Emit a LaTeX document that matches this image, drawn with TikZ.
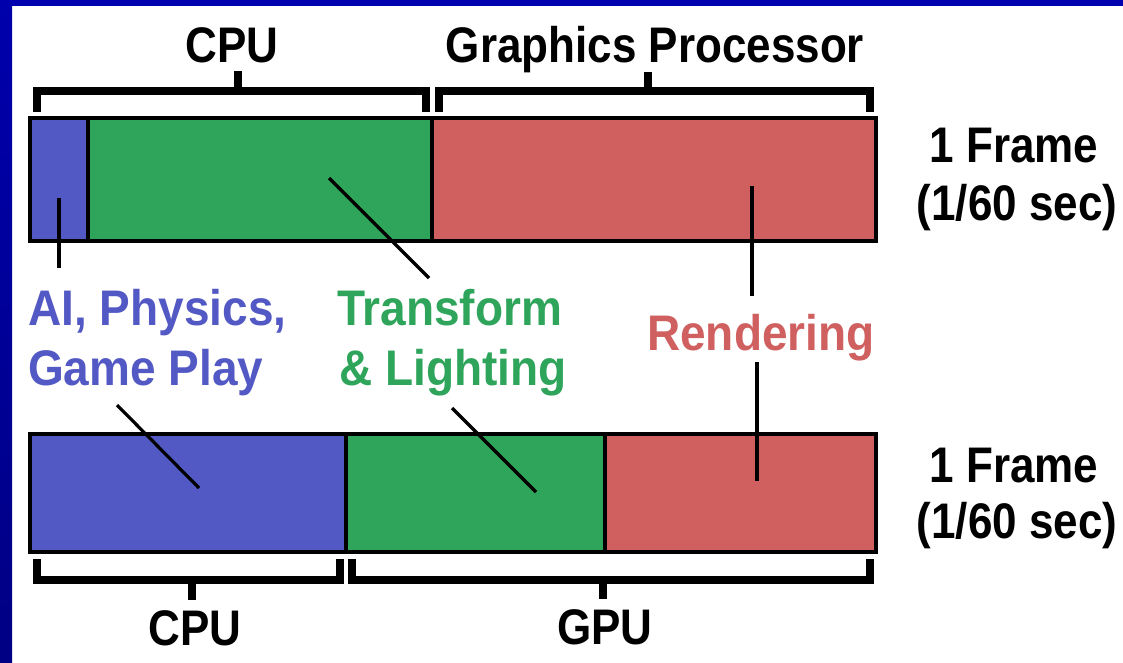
\documentclass[tikz,border=0pt]{standalone}
\usepackage{fontspec}
\newfontfamily\pixfont{Liberation Sans}[FakeStretch=0.88]
\newfontfamily\pixwide{Liberation Sans}[FakeStretch=0.92]
\definecolor{segblue}{RGB}{83,89,196}
\definecolor{seggreen}{RGB}{46,165,91}
\definecolor{segred}{RGB}{208,96,96}
\definecolor{frametop}{RGB}{0,0,176}
\definecolor{frameleftA}{RGB}{0,0,172}
\definecolor{frameleftB}{RGB}{0,0,132}
\tikzset{
  seg/.style={draw=black, line width=4pt, inner sep=0pt, outer sep=0pt},
  bracket/.style={draw=black, line width=8pt, line cap=butt, line join=miter},
  lead/.style={draw=black, line width=4pt, line cap=butt},
  diag/.style={draw=black, line width=3.2pt, line cap=butt},
  lbl/.style={inner sep=0pt, anchor=base, font=\pixfont\bfseries\fontsize{50}{60}\selectfont},
  clbl/.style={inner sep=0pt, anchor=base west, font=\pixwide\bfseries\fontsize{50}{60}\selectfont}
}
\begin{document}
\begin{tikzpicture}[x=1pt, y=-1pt]
\useasboundingbox (0,0) rectangle (1123,662);
\fill[white] (0,0) rectangle (1123,662);
% frame
\fill[frametop] (0,0) rectangle (1123,6);
\shade[top color=frameleftA, bottom color=frameleftB] (0,0) rectangle (12,662);

% top bar
\node[seg, fill=segblue,  minimum width=58pt,  minimum height=123pt] (tblue)  at (59,179.5) {};
\node[seg, fill=seggreen, minimum width=344pt, minimum height=123pt] (tgreen) at (260,179.5) {};
\node[seg, fill=segred,   minimum width=444pt, minimum height=123pt] (tred)   at (654,179.5) {};

% bottom bar
\node[seg, fill=segblue,  minimum width=316pt, minimum height=118pt] (bblue)  at (188,493) {};
\node[seg, fill=seggreen, minimum width=259pt, minimum height=118pt] (bgreen) at (475.5,493) {};
\node[seg, fill=segred,   minimum width=271pt, minimum height=118pt] (bred)   at (740.5,493) {};

% top brackets
\draw[bracket] (37,112) -- (37,91) -- (426,91) -- (426,112);
\draw[bracket] (238,91) -- (238,71);
\draw[bracket] (439,112) -- (439,91) -- (870,91) -- (870,112);
\draw[bracket] (648,91) -- (648,72);

% bottom brackets
\draw[bracket] (37,559) -- (37,579.5) -- (340,579.5) -- (340,559);
\draw[bracket] (192,579.5) -- (192,600);
\draw[bracket] (352,559) -- (352,579.5) -- (870,579.5) -- (870,559);
\draw[bracket] (603,579.5) -- (603,599);

% bracket labels
\node[lbl] (cputop) at (232,62) {CPU};
\node[lbl] (gfx) at (655,62) {Graphics Processor};
\node[lbl] (cpubot) at (195,645) {CPU};
\node[lbl] (gpubot) at (605,644) {GPU};

% frame labels
\node[lbl] (f1a) at (1014,162) {1 Frame};
\node[lbl] (f1b) at (1017,220) {(1/60 sec)};
\node[lbl] (f2a) at (1014,482) {1 Frame};
\node[lbl] (f2b) at (1017,538) {(1/60 sec)};

% coloured labels
\node[clbl, text=segblue] (ai) at (28,325) {AI, Physics,};
\node[clbl, text=segblue] (game) at (28,385) {Game Play};
\node[clbl, text=seggreen] (tr) at (337,325) {Transform};
\node[clbl, text=seggreen] (light) at (339,385) {\&\ Lighting};
\node[clbl, text=segred] (rend) at (647,350) {Rendering};

% leader line end points
\coordinate (ltb1) at (59,198);   \coordinate (ltb2) at (59,268);
\coordinate (ltg1) at (329,178);  \coordinate (ltg2) at (429,278);
\coordinate (ltr1) at (752,186);  \coordinate (ltr2) at (752,296);
\coordinate (lbr1) at (757,362);  \coordinate (lbr2) at (757,481);
\coordinate (lbb1) at (117,405);  \coordinate (lbb2) at (199,488);
\coordinate (lbg1) at (452,408);  \coordinate (lbg2) at (536,492);

\draw[lead] (ltb1) -- (ltb2);
\draw[diag] (ltg1) -- (ltg2);
\draw[lead] (ltr1) -- (ltr2);
\draw[lead] (lbr1) -- (lbr2);
\draw[diag] (lbb1) -- (lbb2);
\draw[diag] (lbg1) -- (lbg2);
\end{tikzpicture}
\end{document}
